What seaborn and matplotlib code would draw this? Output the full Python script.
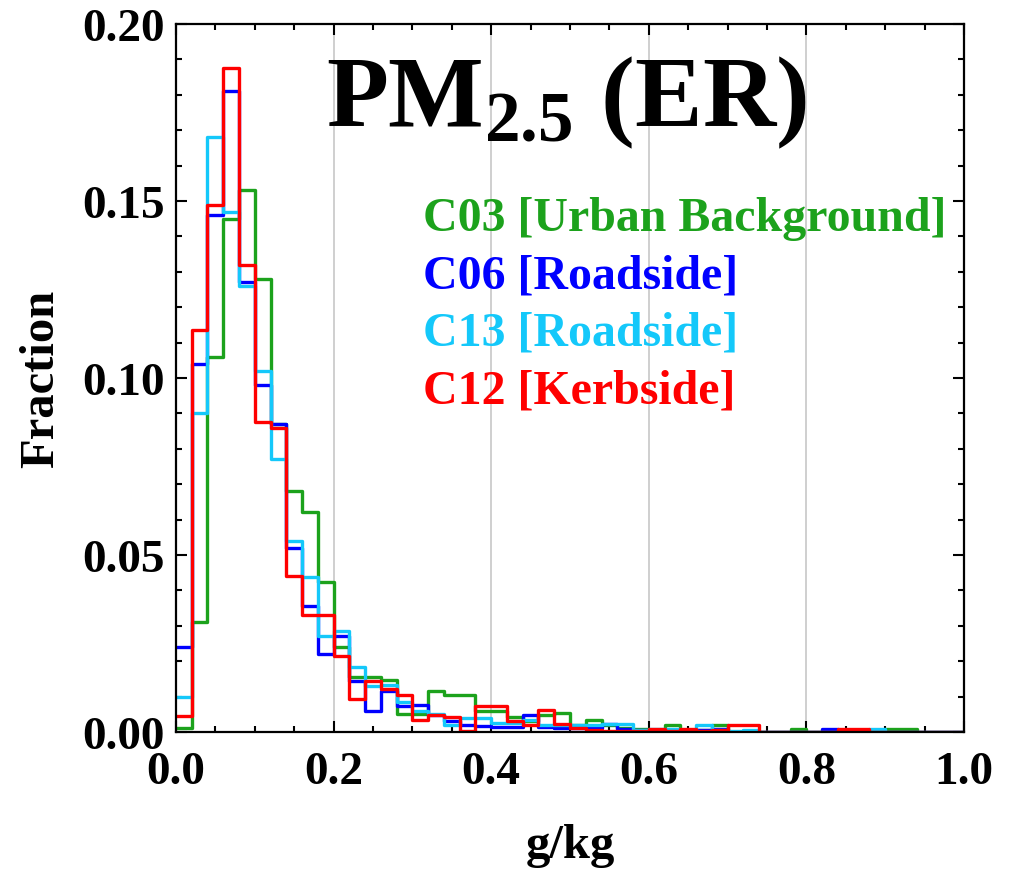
import numpy as np
import pandas as pd
import seaborn as sns
import matplotlib.pyplot as plt
from matplotlib.ticker import MultipleLocator, FormatStrFormatter

# bins of 0.02 g/kg from 0 to 1
bin_edges = [round(0.02 * i, 2) for i in range(51)]
bin_centers = [round(0.02 * i + 0.01, 3) for i in range(50)]

# fraction per bin
c03_frac = [0.001, 0.031, 0.106, 0.145, 0.153, 0.128, 0.087, 0.068, 0.062, 0.0425,
            0.024, 0.0156, 0.0156, 0.0147, 0.005, 0.005, 0.0117, 0.0105, 0.0105, 0.006,
            0.006, 0.0043, 0.003, 0.0048, 0.0053, 0.002, 0.0034, 0.002, 0.001, 0.0008,
            0.0003, 0.002, 0.0005, 0.0005, 0.002, 0.0, 0.0, 0.0, 0.0, 0.0007,
            0.0, 0.0, 0.0, 0.0, 0.0, 0.0007, 0.0007, 0.0, 0.0, 0.0]
c06_frac = [0.024, 0.104, 0.146, 0.181, 0.127, 0.098, 0.087, 0.052, 0.0355, 0.022,
            0.027, 0.0145, 0.006, 0.0115, 0.0072, 0.0076, 0.0048, 0.003, 0.002, 0.0018,
            0.0014, 0.0014, 0.0048, 0.0014, 0.001, 0.001, 0.001, 0.0022, 0.0008, 0.0005,
            0.0005, 0.0005, 0.0003, 0.0005, 0.0007, 0.0, 0.0, 0.0, 0.0, 0.0,
            0.0, 0.0007, 0.0, 0.0, 0.0, 0.0, 0.0, 0.0, 0.0, 0.0]
c13_frac = [0.010, 0.090, 0.168, 0.147, 0.126, 0.102, 0.077, 0.054, 0.0438, 0.0272,
            0.0284, 0.0183, 0.013, 0.0133, 0.0086, 0.006, 0.005, 0.002, 0.004, 0.004,
            0.0025, 0.0025, 0.0034, 0.002, 0.002, 0.002, 0.002, 0.0022, 0.0022, 0.0005,
            0.0007, 0.0007, 0.0005, 0.002, 0.0005, 0.0003, 0.0006, 0.0, 0.0, 0.0,
            0.0, 0.0, 0.0, 0.0, 0.0007, 0.0, 0.0, 0.0, 0.0, 0.0]
c12_frac = [0.0045, 0.1135, 0.149, 0.1875, 0.132, 0.0875, 0.086, 0.044, 0.033, 0.033,
            0.0215, 0.0092, 0.0145, 0.012, 0.0105, 0.0034, 0.0048, 0.0043, 0.0003, 0.0074,
            0.0074, 0.0032, 0.002, 0.0062, 0.0023, 0.0012, 0.0005, 0.0003, 0.0003, 0.0003,
            0.0008, 0.0003, 0.0008, 0.0003, 0.0005, 0.0021, 0.0021, 0.0, 0.0, 0.0,
            0.0, 0.0, 0.0007, 0.0007, 0.0, 0.0, 0.0, 0.0, 0.0, 0.0]

sites = ['C03', 'C06', 'C13', 'C12']
site_labels = ['C03 [Urban Background]', 'C06 [Roadside]', 'C13 [Roadside]', 'C12 [Kerbside]']
site_colors = ['#1ca21c', '#0000ff', '#14c8fa', '#ff0000']

df = pd.DataFrame({
    'g_kg': bin_centers * 4,
    'frac': c03_frac + c06_frac + c13_frac + c12_frac,
    'site': np.repeat(sites, len(bin_centers)),
})

sns.set_style('ticks', {'axes.edgecolor': 'black', 'text.color': 'black',
                        'axes.labelcolor': 'black', 'xtick.color': 'black',
                        'ytick.color': 'black'})
plt.rcParams['font.family'] = ['Liberation Serif', 'DejaVu Serif']
plt.rcParams['font.weight'] = 'bold'
plt.rcParams['mathtext.fontset'] = 'custom'
plt.rcParams['mathtext.rm'] = 'Liberation Serif:bold'
plt.rcParams['mathtext.bf'] = 'Liberation Serif:bold'
plt.rcParams['mathtext.it'] = 'Liberation Serif:bold:italic'

fig = plt.figure(figsize=(10.13, 8.7), dpi=100)
ax = fig.add_axes([0.1737, 0.1575, 0.778, 0.8138])

# vertical grid first
for gx in [0.2, 0.4, 0.6, 0.8]:
    ax.axvline(gx, color='#cccccc', lw=1.3, zorder=0)

# one histogram per site, drawn in order so red ends on top
for site, col in zip(sites, site_colors):
    sns.histplot(data=df[df['site'] == site], x='g_kg', weights='frac', bins=bin_edges,
                 element='step', fill=False, color=col, linewidth=2.4, ax=ax)

ax.set_xlim(0, 1)
ax.set_ylim(0, 0.2)
ax.xaxis.set_major_locator(MultipleLocator(0.2))
ax.xaxis.set_minor_locator(MultipleLocator(0.05))
ax.yaxis.set_major_locator(MultipleLocator(0.05))
ax.yaxis.set_minor_locator(MultipleLocator(0.01))
ax.xaxis.set_major_formatter(FormatStrFormatter('%.1f'))
ax.yaxis.set_major_formatter(FormatStrFormatter('%.2f'))
ax.tick_params(which='both', direction='in', top=True, right=True, width=1.5,
               labelsize=34, colors='black')
ax.tick_params(which='major', length=8)
ax.tick_params(which='minor', length=4)
ax.tick_params(axis='x', which='major', pad=14)
ax.tick_params(axis='y', which='major', pad=8)
for s in ax.spines.values():
    s.set_linewidth(1.6)
    s.set_color('black')

ax.set_xlabel('g/kg', fontsize=35, fontweight='bold', labelpad=21)
ax.set_ylabel('Fraction', fontsize=35, fontweight='bold', labelpad=14)

ax.text(0.495, 0.856, r'PM$_{\mathbf{2.5}}$ (ER)', transform=ax.transAxes,
        ha='center', va='baseline', fontsize=73, fontweight='bold')

for i, (lab, col) in enumerate(zip(site_labels, site_colors)):
    ax.text(0.3135, 0.709 - i * 0.0812, lab, transform=ax.transAxes, color=col,
            ha='left', va='baseline', fontsize=34.5, fontweight='bold')

plt.savefig('out.png', dpi=100)
